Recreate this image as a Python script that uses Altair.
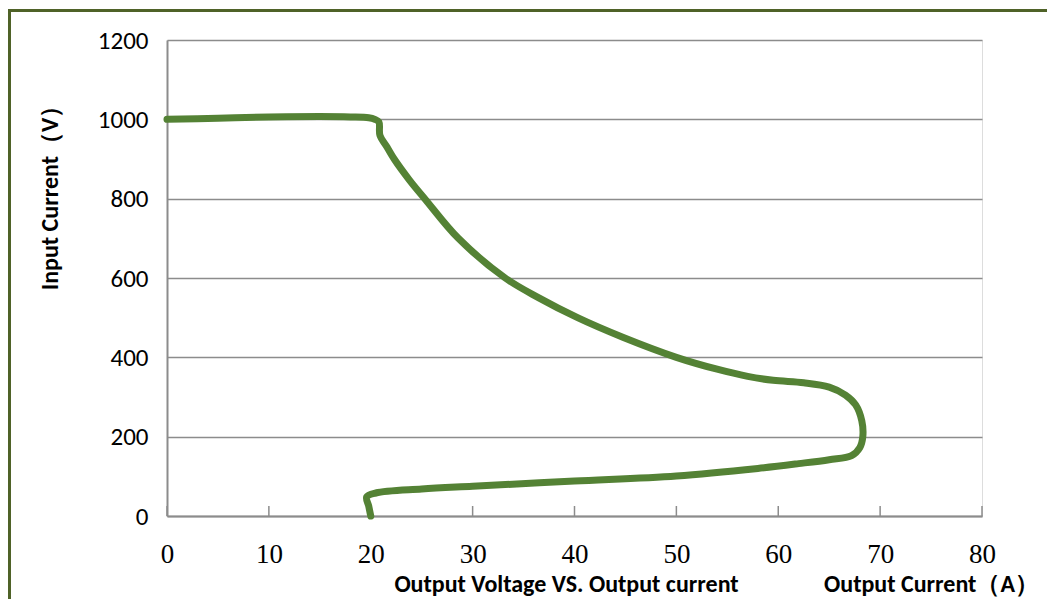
import altair as alt
import pandas as pd

current = [0, 5, 10, 15, 18, 19.8, 20.4, 20.8, 20.9, 21.6, 22.3, 23.8, 25.3, 28.6, 33.2, 36.5,
           40.3, 44.8, 50.0, 54.0, 57.0, 59.5, 62.5, 65.0, 66.6, 67.6, 68.2, 68.3, 68.0, 67.2,
           65.0, 62.0, 58.0, 50.0, 40.0, 30.0, 25.0, 20.5, 19.6, 19.8, 20.0]
voltage = [1000, 1003, 1006, 1007, 1006, 1004, 1000, 993, 960, 930, 900, 847, 800, 700, 600, 550,
           500, 450, 400, 370, 352, 342, 336, 325, 305, 280, 240, 200, 172, 152,
           142, 132, 120, 101, 88, 75, 68, 58, 48, 25, 0]
x_ticks = [0, 10, 20, 30, 40, 50, 60, 70, 80]
y_ticks = [0, 200, 400, 600, 800, 1000, 1200]

y_title = "Input Current（V）"
x_title_left = "Output Voltage VS. Output current"
x_title_right = "Output Current（A）"

W, H = 815, 476
GRAY = "#8c8c8c"
GREEN = "#548235"
BORDER = "#4F6228"

df = pd.DataFrame({"current": current, "voltage": voltage, "order": list(range(len(current)))})
ticks_df = pd.DataFrame({"tick": x_ticks})
one = pd.DataFrame({"a": [0]})

x_scale = alt.Scale(domain=[0, 80], nice=False, zero=False)
y_scale = alt.Scale(domain=[0, 1200], nice=False)

line = alt.Chart(df).mark_line(
    color=GREEN, strokeWidth=7, interpolate="catmull-rom", strokeCap="round", strokeJoin="round"
).encode(
    x=alt.X("current:Q", scale=x_scale,
            axis=alt.Axis(values=x_ticks, title=None, grid=False, ticks=False, format="d",
                          labelFont="Liberation Serif", labelFontSize=27, labelFlush=False,
                          labelColor="#000000", labelBaseline="alphabetic", labelPadding=46,
                          domainColor=GRAY, domainWidth=2)),
    y=alt.Y("voltage:Q", scale=y_scale,
            axis=alt.Axis(values=y_ticks, title=None, grid=True, gridColor=GRAY, gridWidth=1.5,
                          ticks=False, format="d", labelFont="Carlito, Liberation Sans",
                          labelFontSize=25, labelColor="#000000", labelPadding=19,
                          domainColor=GRAY, domainWidth=2)),
    order="order:Q",
)

tick_rules = alt.Chart(ticks_df).mark_rule(color=GRAY, strokeWidth=1.5).encode(
    x=alt.X("tick:Q", scale=x_scale),
    y=alt.value(H - 10),
    y2=alt.value(H),
)

border = alt.Chart(one).mark_rect(filled=False, stroke=BORDER, strokeWidth=3).encode(
    x=alt.value(-157.5), x2=alt.value(900), y=alt.value(-29.5), y2=alt.value(565)
)

title_font = "Carlito, Noto Sans"
t_y = alt.Chart(one).mark_text(
    text=y_title, angle=270, align="center", baseline="alphabetic",
    font=title_font, fontSize=24, fontWeight="bold", color="#000000"
).encode(x=alt.value(-109), y=alt.value(152))

t_x1 = alt.Chart(one).mark_text(
    text=x_title_left, align="center", baseline="alphabetic",
    font=title_font, fontSize=24, fontWeight="bold", color="#000000"
).encode(x=alt.value(399.5), y=alt.value(552))

t_x2 = alt.Chart(one).mark_text(
    text=x_title_right, align="center", baseline="alphabetic",
    font=title_font, fontSize=24, fontWeight="bold", color="#000000"
).encode(x=alt.value(764.5), y=alt.value(552))

chart = alt.layer(tick_rules, line, border, t_y, t_x1, t_x2).properties(
    width=W, height=H,
    autosize=alt.AutoSizeParams(type="none"),
    padding={"left": 159, "top": 32, "right": 65, "bottom": 83},
).configure_view(stroke=None).configure(background="white")

chart.save("out.html", embed_options={"renderer": "svg", "actions": False})
